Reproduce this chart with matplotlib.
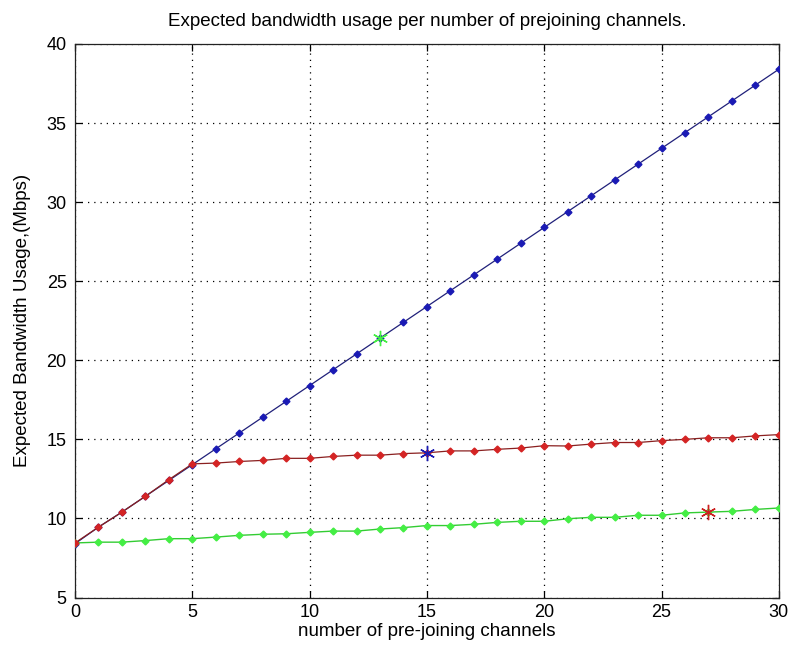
import numpy as np
import matplotlib
matplotlib.use('Agg')
import matplotlib.pyplot as plt

plt.rcParams['font.family'] = ['Liberation Sans', 'DejaVu Sans']

# number of pre-joining channels
channels = list(range(31))

# expected bandwidth (Mbps) per strategy
bw_blue = [8.4, 9.45, 10.4, 11.4, 12.4, 13.4, 14.4, 15.4, 16.4, 17.4, 18.4,
           19.4, 20.4, 21.4, 22.4, 23.4, 24.4, 25.4, 26.4, 27.4, 28.4,
           29.4, 30.4, 31.4, 32.4, 33.4, 34.4, 35.4, 36.4, 37.4, 38.4]
bw_red = [8.45, 9.45, 10.4, 11.4, 12.45, 13.45, 13.5, 13.6, 13.67, 13.8, 13.8,
          13.92, 14.0, 14.0, 14.1, 14.15, 14.27, 14.27, 14.37, 14.45, 14.6,
          14.58, 14.7, 14.8, 14.8, 14.92, 15.0, 15.1, 15.1, 15.22, 15.3]
bw_green = [8.45, 8.5, 8.5, 8.6, 8.72, 8.72, 8.82, 8.93, 9.0, 9.03, 9.12,
            9.2, 9.2, 9.33, 9.42, 9.55, 9.55, 9.63, 9.75, 9.82, 9.82,
            9.98, 10.07, 10.07, 10.2, 10.2, 10.35, 10.4, 10.45, 10.57, 10.66]

# highlighted points
star_x = [13, 15, 27]
star_y = [21.4, 14.15, 10.38]
star_c = ['#44ee44', '#1a1ab4', '#cc2020']

fig = plt.figure(figsize=(7.9, 6.59), dpi=100)
ax = fig.add_axes([0.0949, 0.0933, 0.891, 0.840])

ax.plot(channels, bw_blue, '-', color='#20207a', lw=0.9, zorder=2)
ax.plot(channels, bw_blue, 'D', color='#1a1ab4', ms=3.5, mec='#1a1ab4', zorder=3)
ax.plot(channels, bw_green, '-', color='#33cc33', lw=1.0, zorder=2)
ax.plot(channels, bw_green, 'D', color='#44ee44', ms=3.5, mec='#44ee44', zorder=3)
ax.plot(channels, bw_red, '-', color='#8a2020', lw=0.9, zorder=4)
ax.plot(channels, bw_red, 'D', color='#d42424', ms=3.5, mec='#d42424', zorder=5)

for x, y, c in zip(star_x, star_y, star_c):
    ax.plot(x, y, color=c, ms=11, mew=1.0, zorder=6, marker=(6, 2, 0))

ax.set_xlim(0, 30)
ax.set_ylim(5, 40)
ax.set_xticks(range(0, 31, 5))
ax.set_yticks(range(5, 41, 5))
ax.grid(True, linestyle=(0, (1, 4)), color='black', lw=0.9)
ax.tick_params(direction='in', top=True, right=True, length=5, width=0.9,
               labelsize=13)
ax.tick_params(axis='x', pad=5)
ax.tick_params(axis='y', pad=6)
for s in ax.spines.values():
    s.set_linewidth(0.9)
    s.set_color('#222222')

ax.set_title('Expected bandwidth usage per number of prejoining channels.',
             fontsize=13.5, pad=13)
ax.set_xlabel('number of pre-joining channels', fontsize=13.5, labelpad=1)
ax.set_ylabel('Expected Bandwidth Usage,(Mbps)', fontsize=13.5, labelpad=11)

fig.savefig('out.png', dpi=100)
